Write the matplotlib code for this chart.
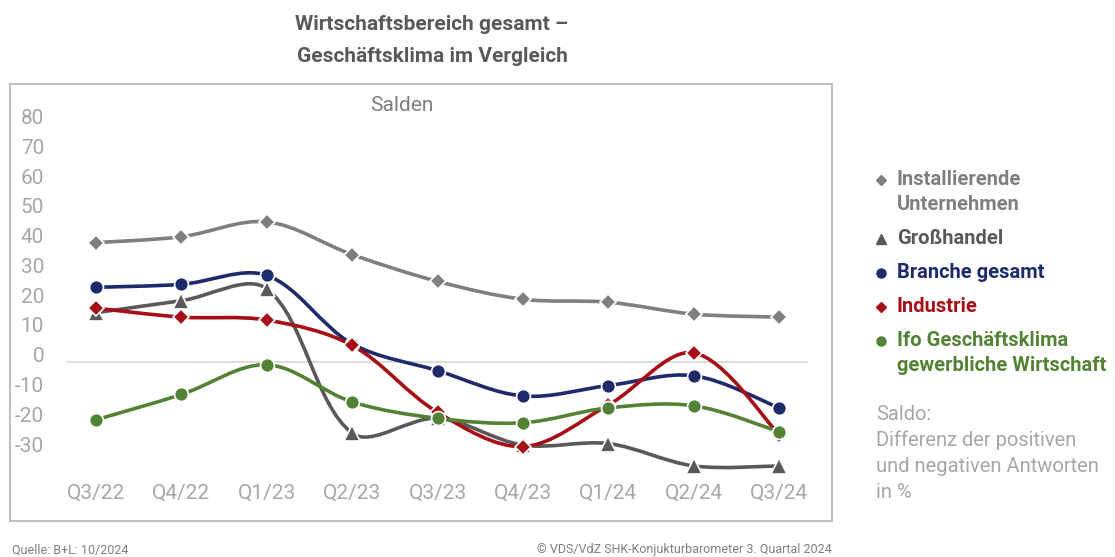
import matplotlib
matplotlib.use("Agg")
import matplotlib.pyplot as plt
from matplotlib.path import Path
from matplotlib.patches import PathPatch
from matplotlib.lines import Line2D
from matplotlib.transforms import ScaledTranslation
import numpy as np

plt.rcParams["font.family"] = ["Roboto", "DejaVu Sans"]

# --- data -------------------------------------------------------------
quarters = ["Q3/22", "Q4/22", "Q1/23", "Q2/23", "Q3/23", "Q4/23", "Q1/24", "Q2/24", "Q3/24"]

installierende = [40, 42, 47, 36, 27, 21, 20, 16, 15]
grosshandel    = [16.5, 20.5, 24.5, -24, -19, -28, -27.5, -35, -35]
branche        = [25, 26, 29, 6, -3, -11.5, -8, -4.7, -15.5]
industrie      = [18, 15, 14, 5.5, -17, -28.5, -14.5, 3, -24.5]
ifo            = [-19.5, -11, -1, -13.5, -19, -20.5, -15.5, -14.8, -23.5]

y_ticks = [80, 70, 60, 50, 40, 30, 20, 10, 0, -10, -20, -30]

series = [
    ("Installierende\nUnternehmen", installierende, "#7f7f7f", "D", 8),
    ("Großhandel", grosshandel, "#595959", "^", 11),
    ("Branche gesamt", branche, "#1f2a6b", "o", 10),
    ("Industrie", industrie, "#a50f15", "D", 8),
    ("Ifo Geschäftsklima\ngewerbliche Wirtschaft", ifo, "#548235", "o", 10),
]

TICK_GREY = "#a6a6a6"
W, H = 1115, 557


def smooth_path(ax, xs, ys):
    """Excel-like smoothed line: cubic bezier, tangents weighted by segment length (pixel space)."""
    pts = ax.transData.transform(np.column_stack([xs, ys]).astype(float))
    n = len(pts)
    seg = np.hypot(*np.diff(pts, axis=0).T)
    verts = [pts[0]]
    codes = [Path.MOVETO]
    for i in range(n - 1):
        if i == 0:
            c1 = pts[0] + (pts[1] - pts[0]) / 6
        else:
            w = seg[i] / (seg[i - 1] + seg[i])
            c1 = pts[i] + (pts[i + 1] - pts[i - 1]) * w / 3
        if i == n - 2:
            c2 = pts[i + 1] - (pts[i + 1] - pts[i]) / 6
        else:
            w = seg[i] / (seg[i] + seg[i + 1])
            c2 = pts[i + 1] - (pts[i + 2] - pts[i]) * w / 3
        verts += [c1, c2, pts[i + 1]]
        codes += [Path.CURVE4] * 3
    verts = ax.transData.inverted().transform(np.array(verts))
    return Path(verts, codes)


fig = plt.figure(figsize=(W / 100, H / 100), dpi=100)
ax = fig.add_axes([10 / W, (H - 521) / H, 822 / W, 437 / H])

x = np.arange(len(quarters))
ax.set_xlim(-1.007, 8.618)
ax.set_ylim(-53.5, 93.3)

ax.hlines(0, -0.34, 8.34, color="#d9d9d9", lw=1.3, zorder=1)

for name, vals, col, mk, ms in series:
    patch = PathPatch(smooth_path(ax, x, vals), facecolor="none", edgecolor=col,
                      lw=2.6, zorder=2, capstyle="round", joinstyle="round")
    ax.add_patch(patch)
    ax.plot(x, vals, ls="none", marker=mk, ms=ms, color=col,
            mec="white", mew=1.2, zorder=3)

for side in ax.spines.values():
    side.set_color("#bfbfbf")
    side.set_linewidth(1.5)

ax.set_xticks(x)
ax.set_xticklabels(quarters)
ax.set_yticks(y_ticks)
ax.set_yticklabels([str(v) for v in y_ticks])
ax.tick_params(axis="both", length=0, labelsize=15, labelcolor=TICK_GREY)
ax.tick_params(axis="y", pad=-24.5)
ax.tick_params(axis="x", pad=-27)
shift = ScaledTranslation(0, 7 / 100, fig.dpi_scale_trans)
for lab in ax.get_yticklabels():
    lab.set_transform(lab.get_transform() + shift)

ax.text(0.476, 0.95, "Salden", transform=ax.transAxes, ha="center", va="center",
        fontsize=15, color="#7f7f7f")

# title
fig.text(432 / W, 1 - 25 / H, "Wirtschaftsbereich gesamt –", ha="center", va="center",
         fontsize=15, fontweight="bold", color="#595959")
fig.text(432 / W, 1 - 57 / H, "Geschäftsklima im Vergleich", ha="center", va="center",
         fontsize=15, fontweight="bold", color="#595959")

# legend
legend_y = [180, 239, 273, 307, 341]
for (name, vals, col, mk, ms), ly in zip(series, legend_y):
    fig.add_artist(Line2D([881 / W], [1 - ly / H], marker=mk, ms=ms * 0.65, color=col,
                          ls="none", transform=fig.transFigure))
    fig.text(897 / W, 1 - (ly - 10) / H, name, ha="left", va="top", fontsize=14.5,
             fontweight="bold", color=col, linespacing=1.4)

saldo_lines = ["Saldo:", "Differenz der positiven", "und negativen Antworten", "in %"]
for i, line in enumerate(saldo_lines):
    fig.text(876 / W, 1 - (414 + 26 * i) / H, line, ha="left", va="center",
             fontsize=14.5, color=TICK_GREY)

# footer
fig.text(12 / W, 1 - 550 / H, "Quelle: B+L: 10/2024", ha="left", va="center",
         fontsize=9, color="#7f7f7f")
fig.text(832 / W, 1 - 550 / H, "© VDS/VdZ SHK-Konjukturbarometer 3. Quartal 2024",
         ha="right", va="center", fontsize=9, color="#7f7f7f")

fig.savefig("out.png", dpi=100, facecolor="white")
